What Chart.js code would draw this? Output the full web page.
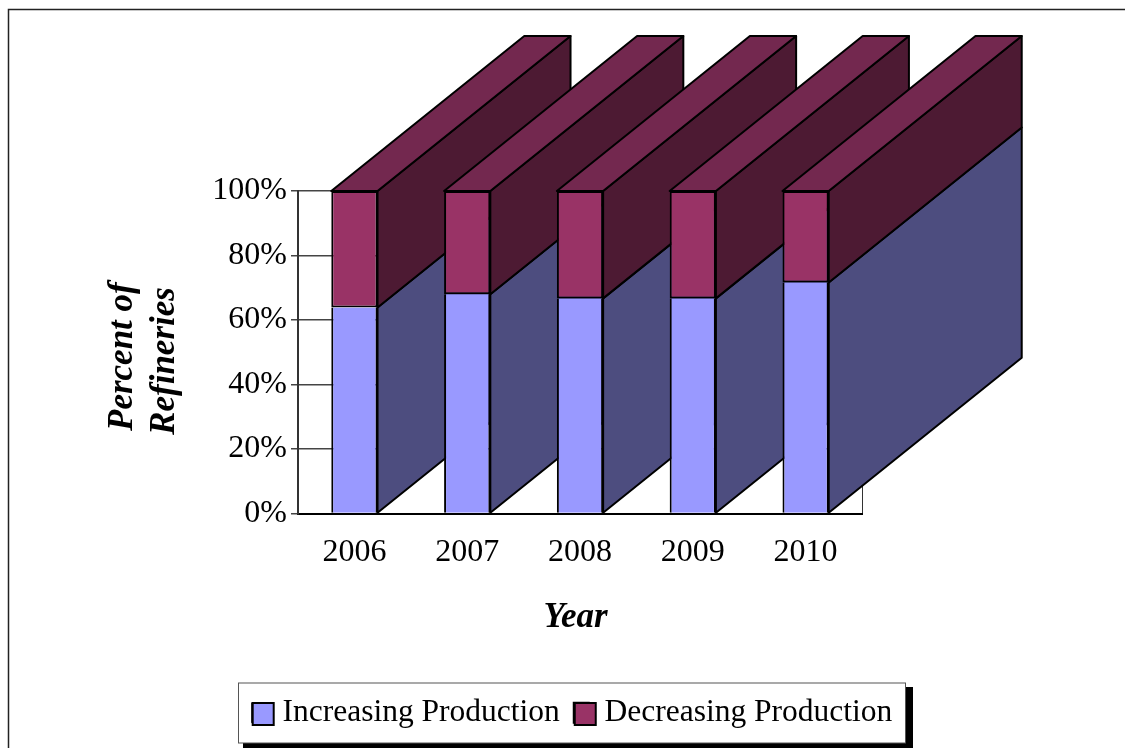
<!DOCTYPE html>
<html>
<head>
<meta charset="utf-8">
<style>
  html, body { margin: 0; padding: 0; background: #fff; }
  #wrap { position: relative; width: 1125px; height: 748px; }
</style>
<script src="https://cdn.jsdelivr.net/npm/chart.js@4"></script>
</head>
<body>
<div id="wrap"><canvas id="chart" width="1125" height="748"></canvas></div>
<script>
const years = ['2006', '2007', '2008', '2009', '2010'];
const increasing = [63.9, 68.0, 66.7, 66.7, 71.6];
const decreasing = [36.1, 32.0, 33.3, 33.3, 28.4];
const yTicks = [0, 20, 40, 60, 80, 100];

const FONT = '"Liberation Serif", "Times New Roman", serif';

// depth of the fake 3D bars, in pixels
const DEPTH_X = 193;
const DEPTH_Y = -155;

function poly(ctx, pts, fill) {
  ctx.beginPath();
  ctx.moveTo(pts[0][0], pts[0][1]);
  for (let i = 1; i < pts.length; i++) ctx.lineTo(pts[i][0], pts[i][1]);
  ctx.closePath();
  ctx.fillStyle = fill;
  ctx.fill();
  ctx.lineWidth = 2;
  ctx.lineJoin = 'round';
  ctx.strokeStyle = '#000';
  ctx.stroke();
}

// side and top faces go under the native bars, left to right
const depthPlugin = {
  id: 'depth',
  beforeDatasetsDraw(chart) {
    const ctx = chart.ctx;
    const lower = chart.getDatasetMeta(0).data;
    const upper = chart.getDatasetMeta(1).data;
    ctx.save();
    lower.forEach((bar, i) => {
      const top = upper[i];
      const left = bar.x - bar.width / 2;
      const right = bar.x + bar.width / 2;
      poly(ctx, [[right, bar.base], [right + DEPTH_X, bar.base + DEPTH_Y], [right + DEPTH_X, bar.y + DEPTH_Y], [right, bar.y]], '#4D4D7F');
      poly(ctx, [[right, bar.y], [right + DEPTH_X, bar.y + DEPTH_Y], [right + DEPTH_X, top.y + DEPTH_Y], [right, top.y]], '#4D1A33');
      poly(ctx, [[left, top.y], [left + DEPTH_X, top.y + DEPTH_Y], [right + DEPTH_X, top.y + DEPTH_Y], [right, top.y]], '#73284F');
    });
    ctx.restore();
  }
};

// outer frame of the picture, the box behind the legend and its wider swatches
const framePlugin = {
  id: 'frame',
  afterLayout(chart) {
    const legend = chart.legend;
    // a little wider than the drawn box, otherwise the second item wraps
    legend.left = 236;
    legend.right = 908;
    legend.top = 683;
    legend.bottom = 743;
    legend.adjustHitBoxes();
  },
  beforeDraw(chart) {
    const ctx = chart.ctx;
    ctx.save();
    ctx.strokeStyle = '#222';
    ctx.lineWidth = 1.5;
    ctx.beginPath();
    ctx.moveTo(8.5, 748);
    ctx.lineTo(8.5, 9.5);
    ctx.lineTo(1125, 9.5);
    ctx.stroke();
    ctx.fillStyle = '#000';
    ctx.fillRect(243, 687, 670, 61);
    ctx.fillStyle = '#fff';
    ctx.fillRect(238.5, 683, 667, 60);
    ctx.strokeStyle = '#555';
    ctx.lineWidth = 1;
    ctx.strokeRect(238.5, 683, 667, 60);
    ctx.restore();
  },
  afterDraw(chart) {
    const ctx = chart.ctx;
    ctx.save();
    // hit box tops are not usable after the second adjustHitBoxes, only left is
    chart.legend.legendHitBoxes.forEach((hit, i) => {
      ctx.fillStyle = chart.data.datasets[i].backgroundColor;
      ctx.fillRect(hit.left + 1, 703, 21, 22);
      ctx.strokeStyle = '#000';
      ctx.lineWidth = 2;
      ctx.strokeRect(hit.left + 1, 703, 21, 22);
    });
    ctx.restore();
  }
};

new Chart(document.getElementById('chart'), {
  type: 'bar',
  data: {
    labels: years,
    datasets: [
      { label: 'Increasing Production', data: increasing, backgroundColor: '#9999FF', borderColor: '#000', borderWidth: { left: 2, right: 2, top: 0, bottom: 0 }, borderSkipped: false },
      { label: 'Decreasing Production', data: decreasing, backgroundColor: '#993366', borderColor: '#000', borderWidth: 2, borderSkipped: false }
    ]
  },
  options: {
    responsive: false,
    animation: false,
    layout: { padding: { left: 102, right: 263, top: 191, bottom: 54 } },
    datasets: { bar: { categoryPercentage: 1, barPercentage: 0.41 } },
    scales: {
      x: {
        stacked: true,
        afterFit(scale) { scale.height = 125; },
        grid: {
          offset: true,
          drawTicks: false,
          lineWidth: 1,
          // only the closing line on the right has no tick of its own, so no index
          color: ctx => (ctx.index === undefined ? '#333' : 'transparent')
        },
        border: { color: '#000', width: 2 },
        ticks: { color: '#000', font: { family: FONT, size: 32 }, padding: 20, maxRotation: 0 },
        // the trailing space nudges the centred word left, as in the original
        title: { display: true, text: 'Year ', color: '#000', font: { family: FONT, size: 35, weight: 'bold', style: 'italic' }, padding: { top: 0, bottom: 0 } }
      },
      y: {
        stacked: true,
        min: 0,
        max: 100,
        afterFit(scale) { scale.width = 196; },
        afterBuildTicks(scale) { scale.ticks = yTicks.map(v => ({ value: v })); },
        grid: { color: '#444', lineWidth: 1.5, tickLength: 7 },
        border: { color: '#333', width: 2 },
        ticks: { color: '#000', font: { family: FONT, size: 32 }, padding: 4, callback: v => v + '%' },
        // trailing spaces push the centred lines down so they start level, as in the original
        title: { display: true, text: ['Percent of ', 'Refineries  '], color: '#000', font: { family: FONT, size: 35, weight: 'bold', style: 'italic' }, padding: { top: 0, bottom: 0 } }
      }
    },
    plugins: {
      title: { display: false },
      tooltip: { enabled: false },
      legend: {
        display: true,
        position: 'bottom',
        labels: { color: '#000', font: { family: FONT, size: 31.5 }, boxWidth: 15, boxHeight: 20, padding: 14 }
      }
    }
  },
  plugins: [framePlugin, depthPlugin]
});
</script>
</body>
</html>
